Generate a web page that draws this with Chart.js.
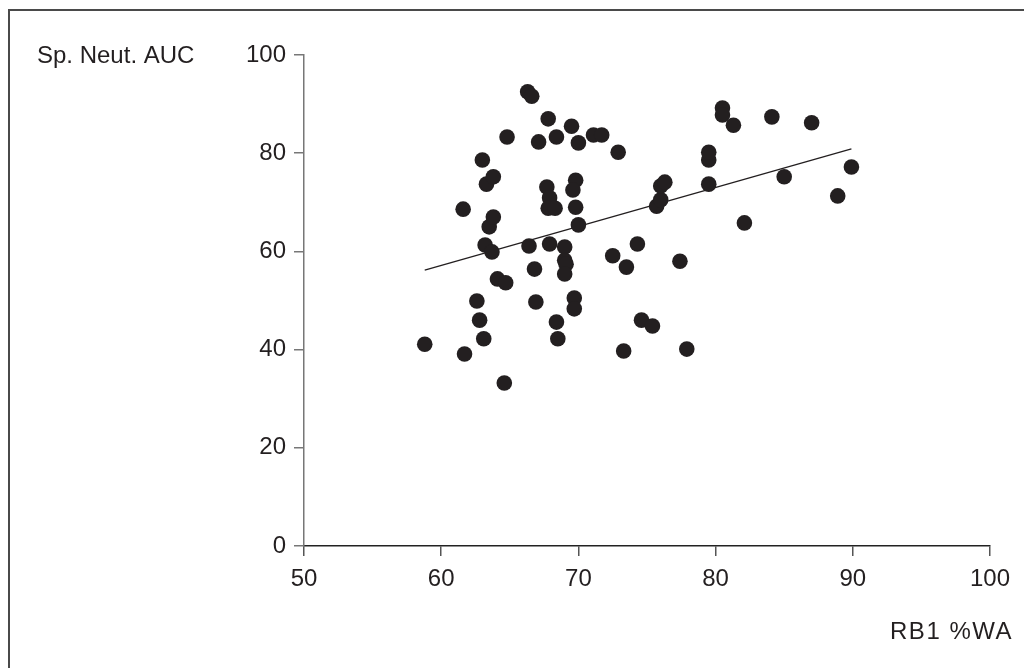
<!DOCTYPE html>
<html>
<head>
<meta charset="utf-8">
<title>Sp. Neut. AUC vs RB1 %WA</title>
<script src="https://cdn.jsdelivr.net/npm/chart.js@4.4.1/dist/chart.umd.min.js"></script>
<style>
    html, body { margin: 0; padding: 0; background: #ffffff; }
    #grafica { display: block; }
</style>
</head>
<body>
<canvas id="grafica" width="1024" height="668"></canvas>
<script>
// Valores de cada sujeto: RB1 %WA (x) y Sp. Neut. AUC (y)
const rb1WA = [
    58.8, 61.7, 61.6, 62.6, 62.8, 63.0, 63.1, 63.3, 63.8, 63.5,
    63.8, 63.2, 63.7, 64.1, 64.7, 64.6, 64.8, 66.3, 66.6, 66.4,
    66.8, 66.9, 67.1, 67.8, 67.7, 67.9, 67.8, 68.3, 67.9, 68.4,
    68.4, 68.5, 69.0, 69.0, 69.1, 69.0, 69.5, 70.0, 69.8, 69.6,
    69.8, 70.0, 69.7, 69.7, 71.1, 71.7, 72.9, 72.5, 73.3, 73.5,
    74.3, 74.6, 75.4, 75.7, 76.0, 76.0, 76.3, 77.4, 77.9, 79.5,
    79.5, 79.5, 80.5, 80.5, 81.3, 82.1, 84.1, 85.0, 87.0, 88.9,
    89.9
];
const spNeutAUC = [
    41.1, 39.1, 68.6, 49.9, 46.0, 78.6, 42.2, 73.7, 75.2, 65.0,
    67.0, 61.3, 59.9, 54.4, 53.6, 33.2, 83.3, 92.5, 91.6, 61.1,
    56.4, 49.7, 82.3, 87.0, 73.1, 70.9, 68.8, 68.8, 61.5, 83.3,
    45.6, 42.2, 60.9, 58.2, 57.4, 55.4, 85.5, 82.1, 74.5, 72.5,
    69.0, 65.4, 50.5, 48.3, 83.7, 83.7, 80.2, 59.1, 39.7, 56.8,
    61.5, 46.0, 44.8, 69.2, 70.5, 73.3, 74.1, 58.0, 40.1, 78.6,
    80.2, 73.7, 89.2, 87.8, 85.7, 65.8, 87.4, 75.2, 86.2, 71.3,
    77.2
];

// Extremos de la recta de regresión
const tendenciaX = [58.8, 89.9];
const tendenciaY = [56.2, 80.9];

// Marcas de los ejes
const marcasX = [50, 60, 70, 80, 90, 100];
const marcasY = [0, 20, 40, 60, 80, 100];

const tituloY = 'Sp. Neut. AUC';
const tituloX = 'RB1 %WA';

const colorTinta = '#231f20';
const fuente = "'Liberation Sans', Arial, Helvetica, sans-serif";

const puntos = rb1WA.map((x, i) => ({ x: x, y: spNeutAUC[i] }));
const recta = tendenciaX.map((x, i) => ({ x: x, y: tendenciaY[i] }));

// Marco de la figura y títulos de los ejes (horizontales)
const decoracion = {
    id: 'decoracion',
    beforeDraw(chart) {
        const ctx = chart.ctx;
        ctx.save();
        ctx.strokeStyle = '#4a4a4a';
        ctx.lineWidth = 2;
        ctx.beginPath();
        ctx.moveTo(9, 668);
        ctx.lineTo(9, 10);
        ctx.lineTo(1024, 10);
        ctx.stroke();
        ctx.restore();
    },
    afterDraw(chart) {
        const ctx = chart.ctx;
        const area = chart.chartArea;
        ctx.save();
        ctx.fillStyle = colorTinta;
        ctx.font = '24px ' + fuente;
        ctx.textBaseline = 'middle';
        ctx.textAlign = 'left';
        ctx.fillText(tituloY, 37, area.top + 1);
        ctx.textAlign = 'right';
        ctx.letterSpacing = '1.5px';
        ctx.fillText(tituloX, 1013, 632);
        ctx.restore();
    }
};

const ctx = document.getElementById('grafica').getContext('2d');
const grafica = new Chart(ctx, {
    type: 'scatter',
    data: {
        datasets: [
            {
                label: 'Sujetos',
                data: puntos,
                backgroundColor: colorTinta,
                borderWidth: 0,
                pointRadius: 7.8,
                pointHoverRadius: 7.8
            },
            {
                type: 'line',
                label: 'Regresión',
                data: recta,
                borderColor: colorTinta,
                borderWidth: 1.3,
                pointRadius: 0,
                fill: false
            }
        ]
    },
    plugins: [decoracion],
    options: {
        responsive: false,
        animation: false,
        layout: {
            padding: { top: 55, right: 34, bottom: 0, left: 0 }
        },
        plugins: {
            legend: { display: false },
            tooltip: { enabled: false }
        },
        scales: {
            x: {
                type: 'linear',
                min: 50,
                max: 100,
                afterBuildTicks: (scale) => {
                    scale.ticks = marcasX.map((v) => ({ value: v }));
                },
                afterFit: (scale) => { scale.height = 122; },
                ticks: {
                    color: colorTinta,
                    font: { family: fuente, size: 24 },
                    padding: 9
                },
                grid: {
                    display: true,
                    drawOnChartArea: false,
                    drawTicks: true,
                    tickLength: 10,
                    color: '#555555',
                    lineWidth: 1.5
                },
                border: { display: true, color: '#222222', width: 1.5 }
            },
            y: {
                type: 'linear',
                min: 0,
                max: 100,
                afterBuildTicks: (scale) => {
                    scale.ticks = marcasY.map((v) => ({ value: v }));
                },
                afterFit: (scale) => { scale.width = 304; },
                ticks: {
                    color: colorTinta,
                    font: { family: fuente, size: 24 },
                    padding: 8
                },
                grid: {
                    display: true,
                    drawOnChartArea: false,
                    drawTicks: true,
                    tickLength: 10,
                    color: '#777777',
                    lineWidth: 1.5
                },
                border: { display: true, color: '#777777', width: 1.5 }
            }
        }
    }
});
</script>
</body>
</html>
